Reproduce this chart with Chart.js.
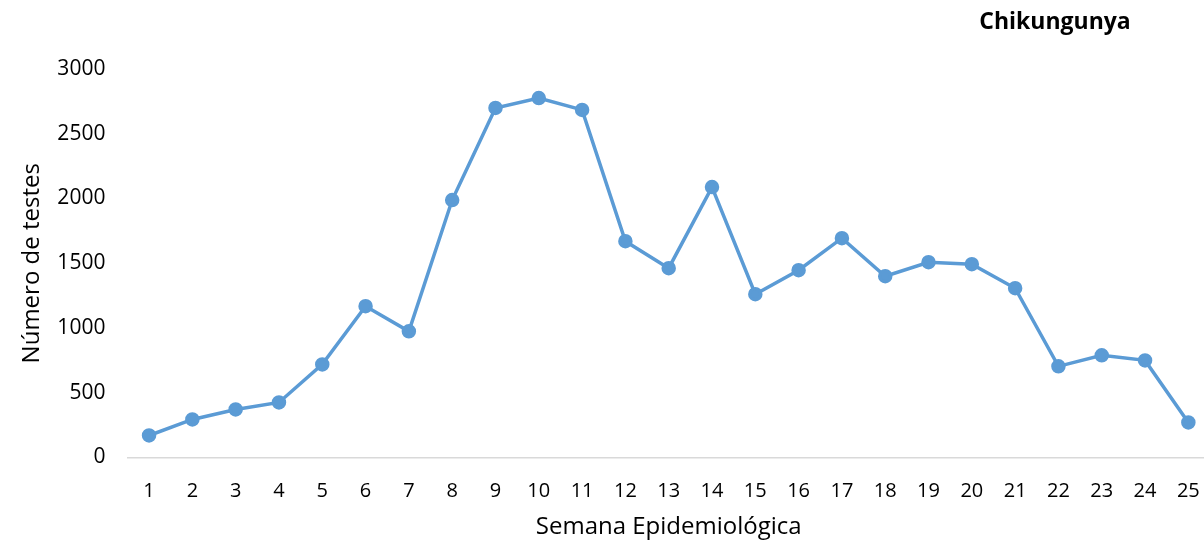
<!DOCTYPE html>
<html>
<head>
<meta charset="utf-8">
<script src="https://cdn.jsdelivr.net/npm/chart.js@4"></script>
<style>
  html, body { margin: 0; padding: 0; background: #fff; overflow: hidden; }
  #wrap { width: 1219px; height: 542px; }
</style>
</head>
<body>
<div id="wrap"><canvas id="grafico"></canvas></div>
<script>
// datos
const semanas = ["1","2","3","4","5","6","7","8","9","10","11","12","13","14","15","16","17","18","19","20","21","22","23","24","25"];
const testes = [170, 294, 371, 425, 719, 1168, 974, 1988, 2699, 2776, 2684, 1670, 1462, 2088, 1261, 1446, 1694, 1400, 1508, 1493, 1307, 704, 789, 750, 271];
const ticksY = [0, 500, 1000, 1500, 2000, 2500, 3000];

const azul = "#5b9bd5";
const fuente = "'Open Sans', sans-serif";

// título en la esquina superior derecha
const tituloPlugin = {
  id: "tituloChik",
  afterDraw(chart) {
    const ctx = chart.ctx;
    ctx.save();
    ctx.font = "bold 23px " + fuente;
    ctx.fillStyle = "#000";
    ctx.textAlign = "center";
    ctx.textBaseline = "middle";
    ctx.fillText("Chikungunya", 1055, 22);
    ctx.restore();
  }
};

new Chart(document.getElementById("grafico"), {
  type: "line",
  data: {
    labels: semanas,
    datasets: [{
      label: "Número de testes",
      data: testes,
      borderColor: azul,
      backgroundColor: azul,
      borderWidth: 3.5,
      pointRadius: 5.5,
      pointHoverRadius: 5.5,
      tension: 0
    }]
  },
  options: {
    responsive: true,
    maintainAspectRatio: false,
    animation: false,
    layout: { padding: { top: 69, left: 18, right: 0, bottom: 0 } },
    plugins: {
      legend: { display: false },
      tooltip: { enabled: false }
    },
    scales: {
      x: {
        offset: true,
        afterFit: (axis) => { axis.height = 84.5; },
        grid: { display: false },
        border: { display: true, color: "#d9d9d9", width: 1.5 },
        ticks: { color: "#000", font: { family: fuente, size: 20 }, padding: 14, maxRotation: 0, autoSkip: false },
        title: { display: true, text: "Semana Epidemiológica", color: "#000", font: { family: fuente, size: 24 }, padding: 0 }
      },
      y: {
        min: 0,
        max: 3000,
        afterBuildTicks: (axis) => { axis.ticks = ticksY.map(v => ({ value: v })); },
        afterFit: (axis) => { axis.width = 109.4; },
        grid: { display: false },
        border: { display: false },
        ticks: { color: "#000", font: { family: fuente, size: 21 }, padding: 14, callback: (v) => String(v) },
        title: { display: true, text: "Número de testes", color: "#000", font: { family: fuente, size: 24 }, padding: 0 }
      }
    }
  },
  plugins: [tituloPlugin]
});
</script>
</body>
</html>
